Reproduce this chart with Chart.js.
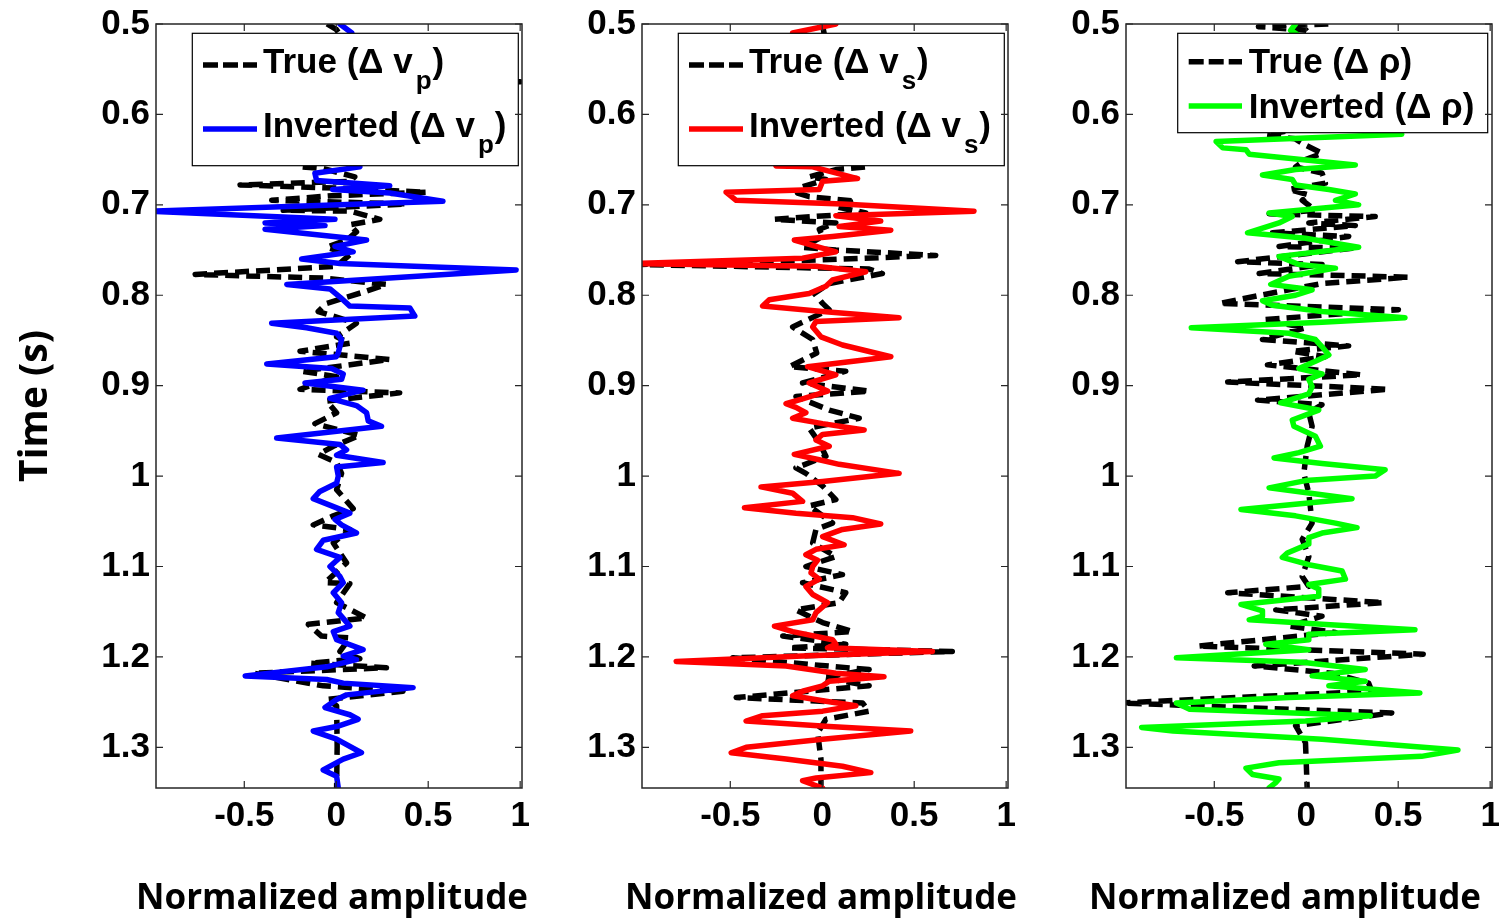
<!DOCTYPE html>
<html><head><meta charset="utf-8">
<script src="https://cdn.jsdelivr.net/npm/chart.js@4.4.1/dist/chart.umd.min.js"></script>
<style>
html,body{margin:0;padding:0;background:#fff;width:1499px;height:918px;overflow:hidden;position:relative}
canvas{position:absolute;top:0}
</style></head><body>
<canvas id="p1" width="530" height="918" style="left:0px"></canvas>
<canvas id="p2" width="486" height="918" style="left:530px"></canvas>
<canvas id="p3" width="483" height="918" style="left:1016px"></canvas>
<script>
// ---------- tick values ----------
const yTickValues = [0.5,0.6,0.7,0.8,0.9,1.0,1.1,1.2,1.3];
const xTickValues = [-0.5,0,0.5,1];
const xTitleText = 'Normalized amplitude';
const yTitleText = 'Time (s)';

// ---------- panel 1 : delta vp ----------
const vpInvTime = [0.500,0.510,0.530,0.560,0.590,0.620,0.645,0.658,0.665,0.673,
  0.679,0.683,0.687,0.696,0.707,0.716,0.720,0.723,0.727,0.739,
  0.746,0.752,0.760,0.765,0.772,0.788,0.793,0.802,0.812,0.814,
  0.823,0.831,0.836,0.842,0.849,0.864,0.868,0.876,0.881,0.887,
  0.893,0.897,0.905,0.914,0.922,0.930,0.939,0.945,0.958,0.965,
  0.971,0.977,0.985,0.990,1.000,1.008,1.017,1.025,1.033,1.041,
  1.048,1.054,1.063,1.071,1.081,1.090,1.100,1.111,1.118,1.129,
  1.140,1.151,1.166,1.172,1.181,1.192,1.199,1.203,1.211,1.221,
  1.225,1.229,1.234,1.242,1.247,1.256,1.264,1.269,1.277,1.282,
  1.291,1.306,1.313,1.325,1.332,1.345];
const vpInvAmp = [0.02,0.085,0.10,-0.05,0.08,-0.04,0.05,0.128,-0.116,-0.107,
  0.291,-0.02,0.291,0.58,-1.02,-0.007,-0.387,-0.061,-0.387,0.165,
  -0.007,0.092,-0.188,0.02,0.978,-0.269,-0.034,0.02,0.074,0.40,
  0.427,-0.351,-0.161,0.002,0.029,0.011,0.0,-0.378,-0.025,0.038,
  0.029,-0.17,0.146,-0.034,0.11,0.165,0.174,0.246,-0.324,0.02,
  0.056,0.002,0.255,0.002,0.011,0.002,-0.089,-0.125,-0.025,0.074,
  -0.007,0.029,0.11,-0.071,-0.107,0.02,-0.034,0.02,0.038,-0.016,
  0.029,0.011,0.074,-0.016,0.002,0.146,0.038,0.11,-0.052,-0.495,
  -0.052,0.038,0.418,0.056,0.002,-0.061,0.074,0.119,0.002,-0.125,
  0.002,0.137,0.038,-0.071,0.002,0.011];
const vpTrueTime = [0.500,0.506,0.520,0.540,0.558,0.564,0.567,0.590,0.620,0.645,
  0.658,0.660,0.669,0.674,0.678,0.682,0.686,0.690,0.695,0.699,
  0.706,0.707,0.716,0.722,0.730,0.739,0.747,0.755,0.768,0.777,
  0.781,0.788,0.796,0.809,0.818,0.831,0.846,0.853,0.862,0.871,
  0.884,0.890,0.904,0.908,0.917,0.930,0.942,0.955,0.967,0.976,
  0.985,0.997,1.015,1.036,1.044,1.054,1.059,1.074,1.096,1.118,
  1.119,1.140,1.157,1.164,1.177,1.179,1.194,1.202,1.207,1.212,
  1.218,1.232,1.238,1.247,1.254,1.299,1.345];
const vpTrueAmp = [-0.05,0.0,0.05,-0.08,0.12,1.0,0.0,-0.10,0.05,-0.05,
  -0.188,-0.071,0.101,0.074,-0.523,0.074,0.49,-0.025,-0.351,0.382,
  -0.288,0.074,0.237,0.074,0.11,0.056,-0.052,0.074,0.002,-0.767,
  -0.071,0.273,0.156,-0.052,-0.098,0.11,0.002,0.074,-0.197,0.291,
  -0.188,0.002,-0.197,0.345,-0.052,0.002,-0.116,0.128,-0.016,-0.098,
  0.002,0.029,0.002,0.092,-0.016,-0.125,0.074,-0.016,0.056,-0.061,
  0.074,0.002,0.165,-0.152,-0.08,0.074,0.02,0.128,-0.143,0.273,
  -0.45,-0.071,0.363,-0.052,0.002,0.005,0.002];

// ---------- panel 2 : delta vs ----------
const vsInvTime = [0.500,0.510,0.530,0.560,0.590,0.620,0.645,0.657,0.658,0.671,
  0.674,0.683,0.686,0.695,0.699,0.707,0.712,0.718,0.724,0.728,
  0.735,0.739,0.746,0.752,0.759,0.765,0.768,0.774,0.783,0.790,
  0.798,0.805,0.812,0.818,0.825,0.829,0.835,0.846,0.855,0.868,
  0.879,0.888,0.897,0.906,0.914,0.920,0.924,0.930,0.936,0.942,
  0.949,0.954,0.960,0.967,0.976,0.982,0.987,0.997,1.006,1.012,
  1.019,1.028,1.035,1.041,1.046,1.053,1.059,1.067,1.076,1.081,
  1.087,1.093,1.100,1.107,1.114,1.122,1.131,1.140,1.151,1.159,
  1.166,1.172,1.181,1.186,1.190,1.194,1.199,1.205,1.210,1.218,
  1.222,1.227,1.232,1.238,1.243,1.249,1.254,1.260,1.265,1.271,
  1.277,1.282,1.291,1.300,1.306,1.313,1.321,1.328,1.334,1.337,
  1.345];
const vsInvAmp = [0.074,-0.161,0.10,-0.10,0.05,-0.08,-0.20,-0.251,-0.052,0.192,
  0.002,-0.016,-0.523,-0.468,0.11,0.825,0.074,0.318,0.092,0.373,
  0.056,-0.152,-0.034,0.074,-0.107,-1.02,-0.034,0.237,0.056,0.02,
  -0.071,-0.288,-0.324,0.002,0.418,-0.034,-0.052,-0.007,0.11,0.373,
  -0.08,0.074,-0.071,0.029,-0.098,-0.197,-0.143,-0.089,-0.161,0.002,
  0.228,0.002,-0.034,0.038,-0.152,-0.016,0.092,0.418,0.002,-0.333,
  -0.161,-0.107,-0.423,-0.143,0.165,0.318,0.11,0.002,0.119,-0.034,
  -0.089,-0.025,-0.052,-0.061,-0.016,-0.089,-0.052,0.029,-0.034,-0.052,
  -0.26,-0.161,0.056,0.074,0.029,0.599,-0.107,-0.794,-0.197,0.074,
  0.336,0.038,0.002,-0.107,-0.161,0.02,0.183,0.002,-0.324,-0.414,
  0.038,0.481,0.002,-0.414,-0.495,-0.197,0.11,0.264,-0.034,-0.107,
  0.002];
const vsTrueTime = [0.500,0.510,0.530,0.560,0.600,0.630,0.650,0.658,0.661,0.669,
  0.672,0.680,0.687,0.691,0.696,0.702,0.709,0.716,0.720,0.727,
  0.735,0.747,0.750,0.756,0.761,0.766,0.771,0.776,0.787,0.798,
  0.809,0.816,0.835,0.849,0.864,0.879,0.884,0.897,0.906,0.912,
  0.927,0.936,0.947,0.963,0.978,0.991,0.997,1.011,1.026,1.033,
  1.052,1.059,1.074,1.089,1.100,1.109,1.118,1.129,1.140,1.148,
  1.162,1.172,1.177,1.186,1.190,1.194,1.201,1.214,1.223,1.232,
  1.245,1.251,1.260,1.269,1.284,1.313,1.345];
const vsTrueAmp = [0.0,0.01,-0.05,0.08,-0.06,0.05,0.15,0.237,0.074,-0.071,
  0.02,-0.107,-0.134,-0.071,0.183,0.074,0.237,-0.26,0.074,-0.016,
  0.002,-0.107,0.074,0.617,-0.016,-1.0,0.255,0.327,0.038,-0.043,
  0.002,0.038,-0.161,-0.052,-0.03,-0.179,0.128,-0.107,0.255,-0.143,
  0.038,0.201,-0.071,-0.016,0.02,-0.143,-0.089,0.002,0.074,-0.071,
  0.056,-0.034,-0.052,0.074,-0.089,0.11,-0.107,0.128,0.092,-0.143,
  0.002,0.165,-0.215,0.128,-0.179,0.707,-0.486,0.255,0.002,0.255,
  -0.468,0.219,0.255,0.02,-0.025,-0.007,-0.007];

// ---------- panel 3 : delta rho ----------
const rhoInvTime = [0.500,0.507,0.530,0.560,0.590,0.610,0.622,0.630,0.637,0.639,
  0.644,0.656,0.661,0.667,0.672,0.678,0.683,0.688,0.695,0.700,
  0.709,0.713,0.720,0.731,0.737,0.747,0.757,0.766,0.770,0.779,
  0.788,0.794,0.800,0.806,0.811,0.818,0.825,0.830,0.836,0.842,
  0.849,0.857,0.866,0.873,0.881,0.887,0.893,0.901,0.909,0.919,
  0.927,0.938,0.945,0.956,0.967,0.974,0.980,0.986,0.993,1.000,
  1.005,1.013,1.025,1.037,1.044,1.052,1.057,1.063,1.068,1.075,
  1.085,1.090,1.098,1.105,1.114,1.120,1.125,1.133,1.142,1.149,
  1.155,1.159,1.164,1.170,1.175,1.181,1.186,1.192,1.201,1.206,
  1.214,1.221,1.227,1.232,1.240,1.245,1.251,1.258,1.265,1.271,
  1.278,1.282,1.291,1.303,1.310,1.317,1.323,1.330,1.335,1.339,
  1.345];
const rhoInvAmp = [-0.058,-0.085,0.10,-0.05,0.08,0.30,0.519,-0.49,-0.454,-0.328,
  -0.31,0.267,-0.058,-0.238,-0.076,-0.058,0.123,0.267,0.159,0.285,
  -0.202,-0.076,-0.148,-0.319,-0.004,0.285,-0.148,-0.04,0.159,-0.094,
  -0.193,0.032,-0.058,-0.238,-0.184,0.086,0.537,0.086,-0.625,-0.094,
  0.05,0.086,0.123,0.05,-0.04,0.086,0.014,0.032,0.014,-0.139,
  0.068,-0.076,-0.067,0.05,0.077,-0.04,-0.175,0.086,0.429,0.375,
  -0.004,-0.202,0.249,-0.355,-0.058,0.159,0.276,0.086,0.014,0.014,
  -0.103,-0.13,0.014,0.195,0.213,0.014,0.068,0.068,-0.355,-0.238,
  -0.238,-0.31,0.086,0.591,0.014,0.014,-0.22,0.014,-0.706,-0.022,
  0.321,0.032,0.321,0.123,0.618,-0.094,-0.706,-0.634,0.348,-0.004,
  -0.895,-0.724,0.086,0.825,0.627,-0.148,-0.328,-0.292,-0.148,-0.166,
  -0.202];
const rhoTrueTime = [0.500,0.503,0.507,0.530,0.560,0.590,0.615,0.623,0.627,0.634,
  0.643,0.650,0.658,0.665,0.676,0.683,0.689,0.695,0.706,0.710,
  0.713,0.720,0.723,0.731,0.735,0.746,0.748,0.763,0.766,0.776,
  0.780,0.787,0.796,0.809,0.816,0.827,0.836,0.849,0.856,0.862,
  0.868,0.877,0.888,0.896,0.904,0.916,0.921,0.930,0.945,0.967,
  0.997,1.019,1.052,1.070,1.089,1.111,1.122,1.129,1.140,1.148,
  1.155,1.166,1.173,1.188,1.197,1.210,1.218,1.229,1.238,1.251,
  1.262,1.276,1.295,1.345];
const rhoTrueAmp = [0.12,-0.26,0.0,0.10,-0.10,0.05,-0.03,-0.22,-0.06,-0.004,
  0.086,-0.004,-0.058,0.086,0.104,-0.094,0.014,-0.022,0.05,-0.202,
  0.375,0.014,0.267,-0.184,0.231,-0.148,0.249,-0.373,0.086,-0.256,
  0.555,0.086,-0.148,-0.472,0.501,-0.238,-0.004,-0.238,0.231,-0.076,
  0.104,-0.211,0.303,-0.427,0.447,-0.265,0.086,0.014,0.032,0.005,
  -0.013,0.014,0.032,-0.022,0.014,-0.022,0.014,-0.427,0.42,-0.166,
  0.086,-0.094,0.159,-0.589,0.636,-0.283,0.141,0.339,0.357,-1.02,
  0.465,-0.058,-0.004,0.005];

// ---------- helpers ----------
const TICK_FONT = {family:'"Liberation Sans", Arial, sans-serif', size:35, weight:'bold'};
const TITLE_FAMILY = '"Open Sans", sans-serif';
const zip = (t, a) => t.map((v, i) => ({x: a[i], y: v}));
const fmt = v => String(Math.round(v * 10) / 10);

const framePlugin = {
  id: 'frame',
  afterDatasetsDraw(chart) {
    const {ctx, chartArea: ca, scales: {x, y}} = chart;
    ctx.save();
    ctx.strokeStyle = '#262626';
    ctx.lineWidth = 1.5;
    ctx.strokeRect(ca.left, ca.top, ca.right - ca.left, ca.bottom - ca.top);
    ctx.lineWidth = 1.2;
    ctx.beginPath();
    y.ticks.forEach(t => {
      const p = y.getPixelForValue(t.value);
      ctx.moveTo(ca.left, p); ctx.lineTo(ca.left + 7, p);
      ctx.moveTo(ca.right, p); ctx.lineTo(ca.right - 7, p);
    });
    x.ticks.forEach(t => {
      const p = x.getPixelForValue(t.value);
      ctx.moveTo(p, ca.bottom); ctx.lineTo(p, ca.bottom - 7);
      ctx.moveTo(p, ca.top); ctx.lineTo(p, ca.top + 7);
    });
    ctx.stroke();
    ctx.restore();
  }
};

function legendPlugin(L) {
  return {
    id: 'boxLegend',
    afterDatasetsDraw(chart) {
      const {ctx, chartArea: ca} = chart;
      ctx.save();
      const bx = ca.left + L.dx;
      ctx.fillStyle = '#fff';
      ctx.fillRect(bx, L.top, L.w, L.h);
      ctx.strokeStyle = '#000';
      ctx.lineWidth = 1.2;
      ctx.strokeRect(bx, L.top, L.w, L.h);
      const big = 'bold 35px "Liberation Sans", Arial, sans-serif';
      const small = 'bold 26px "Liberation Sans", Arial, sans-serif';
      L.rows.forEach(r => {
        ctx.beginPath();
        ctx.setLineDash(r.dash || []);
        ctx.strokeStyle = r.color;
        ctx.lineWidth = 5.5;
        ctx.moveTo(ca.left + L.lineX0, r.lineY);
        ctx.lineTo(ca.left + L.lineX1, r.lineY);
        ctx.stroke();
        ctx.setLineDash([]);
        ctx.fillStyle = '#000';
        ctx.textBaseline = 'alphabetic';
        ctx.textAlign = 'left';
        ctx.font = big;
        let xx = ca.left + L.textX;
        ctx.fillText(r.main, xx, r.base);
        xx += ctx.measureText(r.main).width;
        if (r.sub) {
          ctx.font = small;
          xx += 3;
          ctx.fillText(r.sub, xx, r.base + 16);
          xx += ctx.measureText(r.sub).width + 1;
          ctx.font = big;
          ctx.fillText(r.tail, xx, r.base);
        }
      });
      ctx.restore();
    }
  };
}

function xTitlePlugin(dx) {
  return {
    id: 'xTitle',
    afterDraw(chart) {
      const {ctx, chartArea: ca} = chart;
      ctx.save();
      ctx.fillStyle = '#000';
      ctx.font = 'bold 35px ' + TITLE_FAMILY;
      ctx.textAlign = 'center';
      ctx.textBaseline = 'alphabetic';
      ctx.fillText(xTitleText, (ca.left + ca.right) / 2 + dx, 909);
      ctx.restore();
    }
  };
}

function makePanel(id, p) {
  new Chart(document.getElementById(id), {
    type: 'scatter',
    data: {
      datasets: [
        {label: p.invLabel, data: zip(p.invT, p.invA), showLine: true, borderColor: p.color,
         backgroundColor: p.color, borderWidth: 5.5, pointRadius: 0, tension: 0, order: 1, clip: 0,
         borderJoinStyle: 'round', borderCapStyle: 'round'},
        {label: p.trueLabel, data: zip(p.trueT, p.trueA), showLine: true, borderColor: '#000',
         backgroundColor: '#000', borderWidth: 5.5, borderDash: [14, 7], pointRadius: 0, tension: 0,
         order: 2, clip: 0, borderJoinStyle: 'round'}
      ]
    },
    options: {
      responsive: false, animation: false, events: [],
      layout: {autoPadding: false, padding: {left: 0, top: 24, right: p.padRight, bottom: 0}},
      plugins: {legend: {display: false}, tooltip: {enabled: false}},
      scales: {
        x: {
          type: 'linear', position: 'bottom', min: -0.98, max: 1.01,
          afterBuildTicks: s => { s.ticks = xTickValues.map(v => ({value: v})); },
          afterFit: s => { s.height = 130; s.paddingLeft = 0; s.paddingRight = 0; },
          grid: {display: false, drawTicks: false}, border: {display: false},
          ticks: {color: '#000', font: TICK_FONT, padding: 7, maxRotation: 0, autoSkip: false, callback: v => fmt(v)}
        },
        y: {
          type: 'linear', position: 'left', reverse: true, min: 0.5, max: 1.345,
          afterBuildTicks: s => { s.ticks = yTickValues.map(v => ({value: v})); },
          afterFit: s => { s.width = p.yWidth; s.paddingTop = 0; s.paddingBottom = 0; },
          grid: {display: false, drawTicks: false}, border: {display: false},
          ticks: {color: '#000', font: TICK_FONT, padding: 6, autoSkip: false, callback: v => fmt(v)},
          title: {display: !!p.yTitle, text: yTitleText, color: '#000',
                  font: {family: TITLE_FAMILY, size: 39, weight: 'bold'}, padding: {top: 12, bottom: 0}}
        }
      }
    },
    plugins: [legendPlugin(p.legend), framePlugin, xTitlePlugin(p.titleDx)]
  });
}

const legendVP = (sub, color) => ({
  dx: 36.3, top: 33.3, w: 326, h: 132.4, lineX0: 47, lineX1: 101, textX: 107,
  rows: [
    {lineY: 65, base: 73, main: 'True (\u0394 v', sub: sub, tail: ')', color: '#000', dash: [15, 5]},
    {lineY: 129, base: 137, main: 'Inverted (\u0394 v', sub: sub, tail: ')', color: color}
  ]
});

makePanel('p1', {invT: vpInvTime, invA: vpInvAmp, trueT: vpTrueTime, trueA: vpTrueAmp,
  color: '#0000ff', invLabel: 'Inverted (\u0394 vp)', trueLabel: 'True (\u0394 vp)',
  padRight: 8, yWidth: 156, yTitle: true, titleDx: -7, legend: legendVP('p', '#0000ff')});
makePanel('p2', {invT: vsInvTime, invA: vsInvAmp, trueT: vsTrueTime, trueA: vsTrueAmp,
  color: '#ff0000', invLabel: 'Inverted (\u0394 vs)', trueLabel: 'True (\u0394 vs)',
  padRight: 8, yWidth: 112, yTitle: false, titleDx: -4, legend: legendVP('s', '#ff0000')});
makePanel('p3', {invT: rhoInvTime, invA: rhoInvAmp, trueT: rhoTrueTime, trueA: rhoTrueAmp,
  color: '#00ff00', invLabel: 'Inverted (\u0394 \u03c1)', trueLabel: 'True (\u0394 \u03c1)',
  padRight: 7, yWidth: 110, yTitle: false, titleDx: -24,
  legend: {dx: 51.7, top: 33.3, w: 310, h: 99.4, lineX0: 62.7, lineX1: 116, textX: 122.7,
    rows: [
      {lineY: 61.7, base: 73, main: 'True (\u0394 \u03c1)', color: '#000', dash: [15, 5]},
      {lineY: 106, base: 118, main: 'Inverted (\u0394 \u03c1)', color: '#00ff00'}
    ]}});
</script>
</body></html>
